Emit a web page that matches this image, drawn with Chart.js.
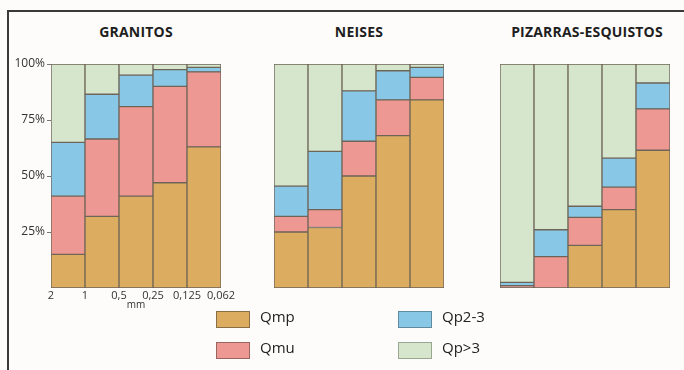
<!DOCTYPE html>
<html>
<head>
<meta charset="utf-8">
<script src="https://cdn.jsdelivr.net/npm/chart.js@4"></script>
<style>
  body { margin: 0; background: #fdfcfa; font-family: "Open Sans", sans-serif; }
  #frame { position: absolute; left: 7px; top: 10px; width: 677px; height: 360px;
           border-left: 2px solid #3a3a3a; border-top: 2px solid #3a3a3a; }
  .panel { position: absolute; }
  .titulo { position: absolute; top: 22px; font-weight: bold; font-size: 14px;
            letter-spacing: 0.2px; color: #1e1e1e; text-align: center; width: 200px; }
  .leg-box { position: absolute; width: 32px; height: 15px; }
  .leg-txt { position: absolute; font-size: 15px; color: #222; }
</style>
</head>
<body>
<div id="frame"></div>
<div class="titulo" style="left:36px">GRANITOS</div>
<div class="titulo" style="left:259px">NEISES</div>
<div class="titulo" style="left:487px">PIZARRAS-ESQUISTOS</div>

<div class="panel" style="left:0px; top:54px; width:240px; height:257px"><canvas id="granitos"></canvas></div>
<div class="panel" style="left:273px; top:63px; width:172px; height:226px"><canvas id="neises"></canvas></div>
<div class="panel" style="left:499px; top:63px; width:172px; height:226px"><canvas id="pizarras"></canvas></div>
<div id="leyenda"></div>

<script>
// clases de tamaño (mm)
const fracciones = ['2-1', '1-0,5', '0,5-0,25', '0,25-0,125', '0,125-0,062'];
const limites = ['2', '1', '0,5', '0,25', '0,125', '0,062'];
const series = ['Qmp', 'Qmu', 'Qp2-3', 'Qp>3'];

const granitosQmp = [15, 32, 41, 47, 63];
const granitosQmu = [26, 34.5, 40, 43, 33.5];
const granitosQp23 = [24, 20, 14, 7.5, 2];
const granitosQp3 = [35, 13.5, 5, 2.5, 1.5];

const neisesQmp = [25, 27, 50, 68, 84];
const neisesQmu = [7, 8, 15.5, 16, 10];
const neisesQp23 = [13.5, 26, 22.5, 13, 4.5];
const neisesQp3 = [54.5, 39, 12, 3, 1.5];

const pizarrasQmp = [0, 0, 19, 35, 61.5];
const pizarrasQmu = [1, 14, 12.5, 10, 18.5];
const pizarrasQp23 = [1.5, 12, 5, 13, 11.5];
const pizarrasQp3 = [97.5, 74, 63.5, 42, 8.5];

const colores = ['#dcad60', '#ee9893', '#88c8e6', '#d5e6cd'];
const bordes = ['#8a6f45', '#9a6460', '#5f8aa0', '#9aa592'];

const crearDatasets = (valores) => valores.map((v, i) => ({
    label: series[i],
    data: v,
    backgroundColor: colores[i],
    borderColor: '#6e6458',
    borderWidth: 1,
    barPercentage: 1,
    categoryPercentage: 1,
    borderSkipped: false
}));

const crearGrafico = (id, valores, conEjes) => {
    const escalas = {
        x: { type: 'category', stacked: true, display: false },
        y: { stacked: true, min: 0, max: 100, display: false }
    };
    if (conEjes) {
        escalas.y = {
            stacked: true, min: 0, max: 100,
            border: { display: false },
            grid: { drawOnChartArea: false, tickLength: 4, color: '#777' },
            ticks: { stepSize: 25, padding: 2, color: '#333', font: { family: 'Open Sans', size: 12 },
                     callback: (v) => v + '%' },
            afterBuildTicks: (s) => { s.ticks = s.ticks.filter(t => t.value > 0); },
            afterFit: (s) => { s.width = 51; }
        };
        escalas.x2 = {
            type: 'linear', position: 'bottom', min: 0, max: 5, offset: false,
            border: { display: false },
            grid: { display: false, drawTicks: false },
            ticks: { stepSize: 1, autoSkip: false, maxRotation: 0, padding: 1, color: '#333',
                     font: { family: 'Open Sans', size: 11 },
                     callback: (v) => limites[v] },
            title: { display: true, text: 'mm', padding: 0, color: '#333',
                     font: { family: 'Open Sans', size: 10 } },
            afterFit: (s) => { s.height = 23; }
        };
    }
    new Chart(document.getElementById(id), {
        type: 'bar',
        data: { labels: fracciones, datasets: crearDatasets(valores) },
        options: {
            responsive: true,
            maintainAspectRatio: false,
            animation: false,
            layout: { padding: conEjes ? { top: 10, right: 19, left: 0, bottom: 0 } : 1 },
            plugins: { legend: { display: false }, tooltip: { enabled: false } },
            scales: escalas
        }
    });
};

crearGrafico('granitos', [granitosQmp, granitosQmu, granitosQp23, granitosQp3], true);
crearGrafico('neises', [neisesQmp, neisesQmu, neisesQp23, neisesQp3], false);
crearGrafico('pizarras', [pizarrasQmp, pizarrasQmu, pizarrasQp23, pizarrasQp3], false);

// leyenda en dos columnas
const leyenda = document.getElementById('leyenda');
const posLeyenda = [[216, 311], [216, 342], [398, 311], [398, 342]];
series.forEach((nombre, i) => {
    const [x, y] = posLeyenda[i];
    const caja = document.createElement('div');
    caja.className = 'leg-box';
    caja.style.left = x + 'px';
    caja.style.top = y + 'px';
    caja.style.background = colores[i];
    caja.style.border = '1.5px solid ' + bordes[i];
    leyenda.appendChild(caja);
    const txt = document.createElement('div');
    txt.className = 'leg-txt';
    txt.style.left = (x + 44) + 'px';
    txt.style.top = (y - 5) + 'px';
    txt.textContent = nombre;
    leyenda.appendChild(txt);
});
</script>
</body>
</html>
